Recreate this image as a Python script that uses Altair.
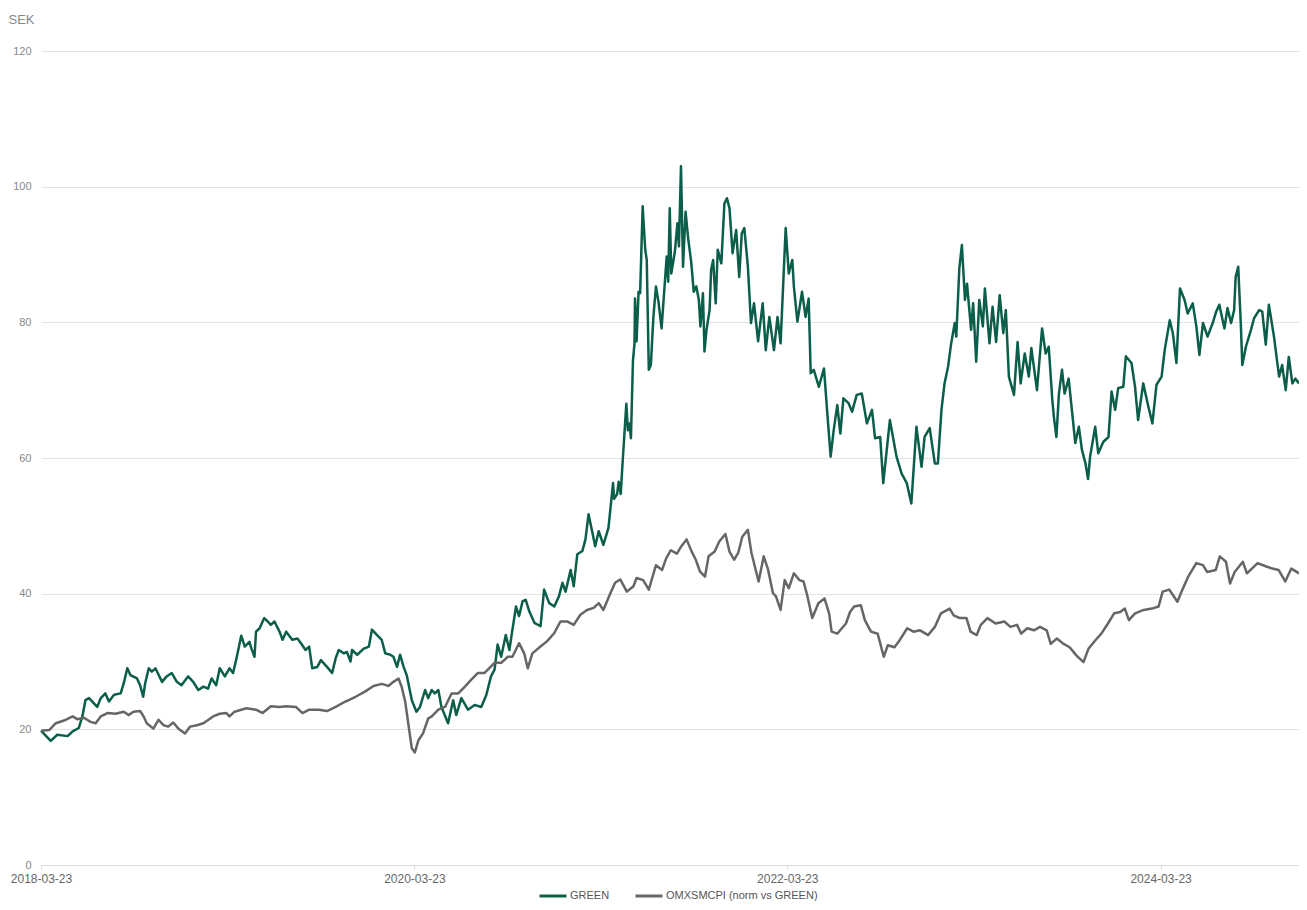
import altair as alt
import pandas as pd

SERIES = ["GREEN", "OMXSMCPI (norm vs GREEN)"]
COLORS = ["#0b5e4a", "#666666"]

green_dates = [
    "2018-03-23", "2018-04-11", "2018-04-24", "2018-05-14", "2018-05-24", "2018-06-05", "2018-06-12", "2018-06-18", "2018-06-25", "2018-07-11",
    "2018-07-18", "2018-07-27", "2018-08-03", "2018-08-13", "2018-08-26", "2018-09-01", "2018-09-08", "2018-09-14", "2018-09-27", "2018-10-03",
    "2018-10-09", "2018-10-13", "2018-10-20", "2018-10-26", "2018-11-02", "2018-11-15", "2018-11-24", "2018-12-04", "2018-12-14", "2018-12-23",
    "2019-01-05", "2019-01-15", "2019-01-25", "2019-02-04", "2019-02-13", "2019-02-20", "2019-03-01", "2019-03-08", "2019-03-18", "2019-03-27",
    "2019-04-03", "2019-04-09", "2019-04-19", "2019-04-26", "2019-05-05", "2019-05-09", "2019-05-15", "2019-05-18", "2019-05-25", "2019-06-03",
    "2019-06-10", "2019-06-16", "2019-06-23", "2019-07-03", "2019-07-09", "2019-07-16", "2019-07-28", "2019-08-07", "2019-08-14", "2019-08-23",
    "2019-08-30", "2019-09-05", "2019-09-15", "2019-09-22", "2019-10-04", "2019-10-14", "2019-10-21", "2019-10-27", "2019-11-06", "2019-11-12",
    "2019-11-19", "2019-11-22", "2019-12-02", "2019-12-15", "2019-12-25", "2019-12-31",
    "2020-01-10", "2020-01-19", "2020-01-26", "2020-02-05", "2020-02-11", "2020-02-18", "2020-02-24", "2020-03-02", "2020-03-08", "2020-03-18",
    "2020-03-27", "2020-04-03", "2020-04-13", "2020-04-19", "2020-04-26", "2020-05-02", "2020-05-09", "2020-05-15", "2020-05-28", "2020-06-07",
    "2020-06-13", "2020-06-23", "2020-07-06", "2020-07-19", "2020-08-01", "2020-08-11", "2020-08-20", "2020-08-27", "2020-09-02", "2020-09-09",
    "2020-09-18", "2020-09-25", "2020-10-01", "2020-10-08", "2020-10-14", "2020-10-21", "2020-10-27", "2020-11-03", "2020-11-13", "2020-11-25",
    "2020-12-02", "2020-12-12", "2020-12-22", "2020-12-31",
    "2021-01-07", "2021-01-13", "2021-01-23", "2021-01-29", "2021-02-05", "2021-02-15", "2021-02-21", "2021-02-27", "2021-03-06", "2021-03-12",
    "2021-03-19", "2021-03-28", "2021-04-07", "2021-04-16", "2021-04-18", "2021-04-24", "2021-04-27", "2021-05-01", "2021-05-05", "2021-05-10",
    "2021-05-12", "2021-05-15", "2021-05-18", "2021-05-21", "2021-05-25", "2021-05-28", "2021-05-29", "2021-06-01", "2021-06-05", "2021-06-08",
    "2021-06-13", "2021-06-18", "2021-06-21", "2021-06-25", "2021-06-29", "2021-07-04", "2021-07-09", "2021-07-14", "2021-07-20", "2021-07-30",
    "2021-08-02", "2021-08-05", "2021-08-08", "2021-08-15", "2021-08-20", "2021-08-23", "2021-08-27", "2021-08-31", "2021-09-05", "2021-09-10",
    "2021-09-16", "2021-09-21", "2021-09-26", "2021-10-01", "2021-10-04", "2021-10-09", "2021-10-12", "2021-10-16", "2021-10-22", "2021-10-25",
    "2021-10-29", "2021-11-03", "2021-11-07", "2021-11-14", "2021-11-20", "2021-11-25", "2021-11-30", "2021-12-06", "2021-12-13", "2021-12-19",
    "2021-12-24", "2021-12-29",
    "2022-01-05", "2022-01-11", "2022-01-17", "2022-01-25", "2022-02-03", "2022-02-09", "2022-02-16", "2022-02-25", "2022-03-04", "2022-03-10",
    "2022-03-20", "2022-03-26", "2022-04-02", "2022-04-05", "2022-04-12", "2022-04-21", "2022-04-28", "2022-05-04", "2022-05-08", "2022-05-14",
    "2022-05-24", "2022-06-03", "2022-06-09", "2022-06-16", "2022-06-22", "2022-06-29", "2022-07-05", "2022-07-11", "2022-07-21", "2022-07-28",
    "2022-08-06", "2022-08-16", "2022-08-26", "2022-09-05", "2022-09-11", "2022-09-21", "2022-09-27", "2022-10-10", "2022-10-17", "2022-10-23",
    "2022-11-02", "2022-11-12", "2022-11-21", "2022-12-01", "2022-12-11", "2022-12-17", "2022-12-27",
    "2023-01-06", "2023-01-12", "2023-01-19", "2023-01-25", "2023-02-01", "2023-02-07", "2023-02-14", "2023-02-17", "2023-02-23", "2023-02-28",
    "2023-03-06", "2023-03-10", "2023-03-18", "2023-03-22", "2023-03-28", "2023-04-03", "2023-04-10", "2023-04-14", "2023-04-23", "2023-04-29",
    "2023-05-06", "2023-05-13", "2023-05-20", "2023-05-25", "2023-05-31", "2023-06-10", "2023-06-17", "2023-06-23", "2023-07-01", "2023-07-09",
    "2023-07-14", "2023-07-25", "2023-08-04", "2023-08-11", "2023-08-17", "2023-08-24", "2023-08-27", "2023-09-01", "2023-09-06", "2023-09-12",
    "2023-09-17", "2023-09-25", "2023-10-02", "2023-10-08", "2023-10-15", "2023-10-21", "2023-10-28", "2023-11-02", "2023-11-06", "2023-11-16",
    "2023-11-22", "2023-12-02", "2023-12-12", "2023-12-18", "2023-12-25", "2023-12-31",
    "2024-01-10", "2024-01-15", "2024-01-26", "2024-02-02", "2024-02-08", "2024-02-18", "2024-02-28", "2024-03-07", "2024-03-15", "2024-03-25",
    "2024-03-31", "2024-04-10", "2024-04-16", "2024-04-23", "2024-04-30", "2024-05-09", "2024-05-15", "2024-05-25", "2024-06-01", "2024-06-07",
    "2024-06-14", "2024-06-23", "2024-07-03", "2024-07-10", "2024-07-16", "2024-07-26", "2024-08-01", "2024-08-08", "2024-08-14", "2024-08-17",
    "2024-08-22", "2024-08-27", "2024-08-30", "2024-09-06", "2024-09-16", "2024-09-22", "2024-10-02", "2024-10-08", "2024-10-15", "2024-10-21",
    "2024-10-31", "2024-11-10", "2024-11-16", "2024-11-23", "2024-11-29", "2024-12-06", "2024-12-12", "2024-12-19",
]
green_values = [
    19.8, 18.3, 19.2, 19.0, 19.7, 20.2, 21.9, 24.3, 24.6, 23.3,
    24.6, 25.3, 24.1, 25.1, 25.3, 26.8, 29.0, 28.0, 27.5, 26.5,
    24.8, 26.8, 29.0, 28.5, 29.0, 27.0, 27.8, 28.3, 27.0, 26.5,
    27.8, 27.0, 25.8, 26.3, 26.0, 27.5, 26.5, 29.0, 27.8, 29.0,
    28.3, 30.2, 33.8, 32.2, 32.9, 31.9, 30.7, 34.4, 34.9, 36.4,
    35.9, 35.4, 35.9, 34.4, 33.2, 34.4, 33.2, 33.4, 32.7, 31.7,
    32.2, 29.0, 29.2, 30.2, 29.2, 28.3, 30.5, 31.7, 31.2, 31.4,
    30.0, 31.7, 31.0, 31.9, 32.2, 34.7,
    33.9, 33.2, 31.2, 31.0, 30.7, 29.2, 31.0, 29.2, 28.0, 24.3,
    22.6, 23.3, 25.8, 24.6, 25.8, 25.3, 25.8, 23.3, 20.9, 24.3,
    22.1, 24.6, 22.9, 23.6, 23.3, 25.1, 27.8, 28.8, 32.5, 30.7,
    33.9, 31.7, 34.7, 38.1, 36.7, 38.9, 39.1, 37.4, 35.7, 35.2,
    40.6, 38.6, 38.1, 39.6,
    41.6, 40.3, 43.5, 41.1, 45.8, 46.3, 48.0, 51.7, 49.2, 47.0,
    49.2, 47.2, 49.7, 56.3, 54.0, 54.7, 56.5, 54.7, 59.7, 65.6,
    68.0, 64.1, 65.1, 62.9, 74.4, 76.9, 83.5, 77.2, 84.5, 84.3,
    97.1, 90.7, 89.2, 73.0, 73.7, 80.8, 85.3, 83.0, 79.1, 89.7,
    86.0, 96.8, 87.2, 90.4, 94.6, 91.2, 103.0, 88.2, 96.3, 92.4,
    88.9, 84.5, 85.3, 83.3, 79.4, 84.3, 75.7, 78.9, 81.8, 87.7,
    89.2, 82.8, 90.7, 88.7, 97.5, 98.3, 96.8, 90.2, 93.6, 86.7,
    93.1, 93.9,
    88.2, 79.9, 82.8, 77.2, 82.8, 75.9, 80.8, 75.9, 80.8, 76.9,
    93.9, 87.2, 89.2, 85.3, 80.1, 84.5, 80.8, 83.5, 72.5, 73.0,
    70.5, 73.2, 67.1, 60.2, 64.1, 67.8, 63.6, 68.8, 68.1, 66.8,
    69.3, 69.5, 65.1, 67.1, 62.9, 63.1, 56.3, 65.6, 62.7, 60.2,
    57.7, 56.3, 53.3, 64.6, 58.7, 63.1, 64.4,
    59.2, 59.2, 67.1, 71.0, 73.5, 76.9, 79.9, 77.9, 88.0, 91.4,
    83.3, 85.7, 78.9, 82.8, 74.2, 83.3, 79.4, 85.0, 76.9, 82.3,
    77.1, 84.0, 78.4, 81.8, 72.0, 69.3, 77.1, 71.0, 75.4, 72.0,
    76.2, 70.0, 79.1, 75.4, 76.4, 68.6, 66.1, 63.1, 69.5, 73.0,
    69.5, 71.7, 66.6, 62.2, 64.6, 61.2, 59.2, 56.9, 60.2, 64.6,
    60.7, 62.4, 63.1, 69.8, 67.1, 70.3,
    70.5, 75.0, 74.0, 70.5, 65.6, 71.0, 67.6, 65.1, 70.8, 72.0,
    75.9, 80.3, 78.4, 74.0, 85.0, 83.3, 81.3, 82.8, 79.4, 75.2,
    79.9, 77.9, 79.9, 81.6, 82.6, 79.1, 82.1, 79.9, 81.8, 86.7,
    88.2, 79.9, 73.7, 76.4, 78.9, 80.6, 81.8, 81.6, 76.7, 82.6,
    77.9, 72.0, 73.7, 70.0, 74.9, 71.0, 71.7, 71.0,
]

omx_dates = [
    "2018-03-23", "2018-04-08", "2018-04-21", "2018-05-07", "2018-05-24", "2018-06-02", "2018-06-15", "2018-06-28", "2018-07-08", "2018-07-18",
    "2018-07-31", "2018-08-16", "2018-09-01", "2018-09-11", "2018-09-20", "2018-10-03", "2018-10-10", "2018-10-16", "2018-10-29", "2018-11-08",
    "2018-11-18", "2018-11-27", "2018-12-07", "2018-12-17", "2018-12-30",
    "2019-01-09", "2019-01-22", "2019-02-04", "2019-02-23", "2019-03-08", "2019-03-21", "2019-03-27", "2019-04-06", "2019-04-29", "2019-05-18",
    "2019-05-31", "2019-06-16", "2019-07-03", "2019-07-16", "2019-08-04", "2019-08-17", "2019-08-30", "2019-09-18", "2019-10-04", "2019-10-21",
    "2019-11-09", "2019-11-29", "2019-12-18",
    "2020-01-03", "2020-01-19", "2020-02-01", "2020-02-11", "2020-02-21", "2020-02-27", "2020-03-05", "2020-03-11", "2020-03-18", "2020-03-24",
    "2020-03-31", "2020-04-09", "2020-04-19", "2020-04-26", "2020-05-09", "2020-05-22", "2020-06-04", "2020-06-17", "2020-06-30", "2020-07-12",
    "2020-07-25", "2020-08-07", "2020-08-27", "2020-09-09", "2020-09-22", "2020-10-01", "2020-10-14", "2020-10-24", "2020-10-31", "2020-11-09",
    "2020-11-25", "2020-12-08", "2020-12-22",
    "2021-01-03", "2021-01-16", "2021-01-29", "2021-02-11", "2021-02-24", "2021-03-09", "2021-03-19", "2021-03-28", "2021-04-11", "2021-04-20",
    "2021-04-30", "2021-05-13", "2021-05-26", "2021-06-01", "2021-06-14", "2021-06-25", "2021-07-09", "2021-07-21", "2021-07-29", "2021-08-07",
    "2021-08-19", "2021-08-27", "2021-09-07", "2021-09-17", "2021-09-25", "2021-10-03", "2021-10-13", "2021-10-20", "2021-11-01", "2021-11-10",
    "2021-11-22", "2021-11-30", "2021-12-09", "2021-12-17", "2021-12-25",
    "2022-01-05", "2022-01-12", "2022-01-26", "2022-02-05", "2022-02-13", "2022-02-23", "2022-03-01", "2022-03-10", "2022-03-18", "2022-03-26",
    "2022-04-05", "2022-04-16", "2022-04-24", "2022-05-01", "2022-05-11", "2022-05-23", "2022-06-04", "2022-06-13", "2022-06-18", "2022-06-29",
    "2022-07-08", "2022-07-16", "2022-07-24", "2022-08-01", "2022-08-14", "2022-08-22", "2022-09-03", "2022-09-16", "2022-09-28", "2022-10-06",
    "2022-10-19", "2022-10-27", "2022-11-13", "2022-11-25", "2022-12-08", "2022-12-24",
    "2023-01-06", "2023-01-18", "2023-02-04", "2023-02-12", "2023-02-24", "2023-03-09", "2023-03-17", "2023-03-29", "2023-04-06", "2023-04-19",
    "2023-05-05", "2023-05-22", "2023-06-03", "2023-06-16", "2023-06-24", "2023-07-06", "2023-07-19", "2023-07-31", "2023-08-13", "2023-08-21",
    "2023-09-02", "2023-09-15", "2023-09-27", "2023-10-10", "2023-10-24", "2023-11-03", "2023-11-16", "2023-11-28", "2023-12-11", "2023-12-23",
    "2024-01-04", "2024-01-13", "2024-01-21", "2024-02-02", "2024-02-19", "2024-03-06", "2024-03-19", "2024-03-27", "2024-04-09", "2024-04-25",
    "2024-05-03", "2024-05-16", "2024-06-01", "2024-06-14", "2024-06-22", "2024-07-09", "2024-07-17", "2024-07-29", "2024-08-06", "2024-08-15",
    "2024-08-31", "2024-09-08", "2024-09-29", "2024-10-16", "2024-10-28", "2024-11-09", "2024-11-22", "2024-12-04", "2024-12-19",
]
omx_values = [
    19.8, 19.9, 20.9, 21.3, 21.9, 21.5, 21.7, 21.1, 20.9, 21.9,
    22.4, 22.3, 22.6, 22.1, 22.6, 22.7, 21.9, 20.9, 20.1, 21.4,
    20.6, 20.4, 21.0, 20.1, 19.4,
    20.4, 20.6, 20.9, 21.9, 22.3, 22.4, 21.9, 22.6, 23.1, 22.9,
    22.4, 23.4, 23.3, 23.4, 23.3, 22.4, 22.9, 22.9, 22.7, 23.3,
    24.1, 24.8, 25.6,
    26.4, 26.7, 26.4, 27.0, 27.5, 26.3, 24.1, 20.9, 17.2, 16.6,
    18.4, 19.4, 21.6, 21.9, 22.9, 23.3, 25.3, 25.3, 26.3, 27.3,
    28.3, 28.3, 29.8, 29.8, 30.7, 30.7, 32.7, 31.2, 29.0, 31.2,
    32.2, 33.0, 34.2,
    35.9, 35.9, 35.4, 36.9, 37.6, 37.9, 38.6, 37.6, 40.1, 41.6,
    42.1, 40.3, 41.1, 42.3, 42.0, 40.6, 44.2, 43.5, 45.2, 46.4,
    45.9, 46.9, 48.0, 46.2, 45.0, 43.3, 42.5, 45.5, 46.2, 47.7,
    48.8, 46.2, 45.0, 46.0, 48.4,
    49.4, 46.0, 41.8, 45.5, 43.7, 40.1, 39.6, 37.6, 42.0, 40.8,
    43.0, 42.0, 41.8, 39.8, 36.4, 38.6, 39.3, 37.1, 34.4, 34.1,
    34.9, 35.6, 37.3, 38.1, 38.3, 36.1, 34.4, 34.1, 30.7, 32.4,
    32.1, 32.9, 34.9, 34.4, 34.6, 33.9,
    35.1, 37.1, 37.8, 36.8, 36.4, 36.4, 34.4, 33.9, 35.4, 36.4,
    35.6, 35.9, 35.1, 35.4, 34.1, 34.9, 34.6, 35.1, 34.6, 32.6,
    33.4, 32.6, 32.1, 30.9, 29.9, 31.9, 33.1, 34.1, 35.6, 37.1,
    37.3, 37.8, 36.1, 37.1, 37.6, 37.8, 38.1, 40.3, 40.6, 38.8,
    40.3, 42.5, 44.5, 44.2, 43.2, 43.5, 45.5, 44.7, 41.5, 43.2,
    44.7, 43.0, 44.5, 44.0, 43.7, 43.5, 41.8, 43.7, 43.0,
]

x_tick_dates = [(2018, 3, 23), (2020, 3, 23), (2022, 3, 23), (2024, 3, 23)]
y_ticks = [0, 20, 40, 60, 80, 100, 120]

df = pd.concat([
    pd.DataFrame({"date": green_dates, "value": green_values, "series": SERIES[0]}),
    pd.DataFrame({"date": omx_dates, "value": omx_values, "series": SERIES[1]}),
], ignore_index=True)
df["order"] = df["series"].map({SERIES[0]: 0, SERIES[1]: 1})

FONT = "Liberation Sans"

chart = alt.Chart(df).mark_line(strokeWidth=2.5, strokeJoin="round").encode(
    x=alt.X(
        "date:T",
        scale=alt.Scale(type="utc", nice=False),
        axis=alt.Axis(
            title=None,
            values=[alt.DateTime(year=y, month=m, date=d, utc=True) for (y, m, d) in x_tick_dates],
            labelExpr="utcFormat(datum.value, '%Y-%m-%d')",
            labelFlush=False,
            labelOverlap=False,
            grid=False,
            domain=True,
            domainColor="#dcdcdc",
            ticks=True,
            tickColor="#dcdcdc",
            tickSize=4,
            labelColor="#666666",
            labelFontSize=12,
            labelPadding=4,
            labelFont=FONT,
        ),
    ),
    y=alt.Y(
        "value:Q",
        scale=alt.Scale(domain=[0, 120], nice=False),
        axis=alt.Axis(
            title="SEK",
            titleAngle=0,
            titleAlign="left",
            titleBaseline="alphabetic",
            titleX=-33,
            titleY=-28,
            titleColor="#888888",
            titleFontSize=13,
            titleFontWeight="normal",
            titleFont=FONT,
            values=y_ticks,
            grid=True,
            gridColor="#e2e2e2",
            gridWidth=1,
            domain=False,
            ticks=False,
            tickSize=0,
            labelPadding=10,
            labelColor="#888888",
            labelFontSize=11,
            labelFont=FONT,
        ),
    ),
    color=alt.Color(
        "series:N",
        scale=alt.Scale(domain=SERIES, range=COLORS),
        legend=alt.Legend(
            title=None,
            orient="none",
            legendX=497,
            legendY=830,
            padding=0,
            direction="horizontal",
            symbolType="stroke",
            symbolStrokeWidth=3,
            symbolSize=729,
            labelFontSize=11,
            labelColor="#555555",
            labelFont=FONT,
            columnPadding=19,
            labelOffset=2,
        ),
    ),
    order=alt.Order("order:Q"),
).properties(
    width=1258,
    height=814,
    autosize=alt.AutoSizeParams(type="none"),
    padding={"left": 33, "top": 43, "right": 0, "bottom": 36},
).configure(
    font=FONT,
).configure_view(
    stroke=None,
)

chart.save("out.html", embed_options={"renderer": "svg", "actions": False})
